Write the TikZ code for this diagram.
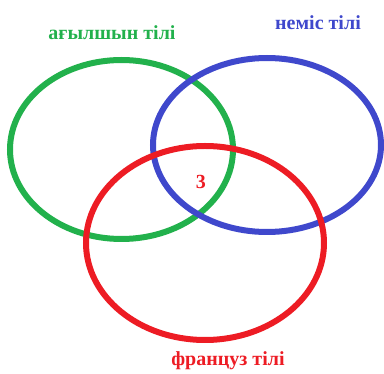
\documentclass[tikz,border=0pt]{standalone}
\usepackage{fontspec}
\setmainfont{Liberation Serif}
\usetikzlibrary{positioning}

\definecolor{enggreen}{RGB}{34,177,76}
\definecolor{gerblue}{RGB}{63,72,204}
\definecolor{frred}{RGB}{237,28,36}

\begin{document}
\begin{tikzpicture}[x=1pt,y=-1pt,
    langring/.style={line width=6pt},
    langlabel/.style={font=\fontsize{20}{20}\selectfont\bfseries}]
    \useasboundingbox (0,0) rectangle (384,374);

    \coordinate (eng) at (121.5,149.5);
    \coordinate (ger) at (267,145);
    \coordinate (fr) at (205,243);

    \draw[langring, enggreen] (eng) ellipse [x radius=111.5pt, y radius=89.5pt];
    \draw[langring, gerblue] (ger) ellipse [x radius=114pt, y radius=87pt];
    \draw[langring, frred] (fr) ellipse [x radius=119pt, y radius=97pt];

    \node[langlabel, text=enggreen] (englabel) at (112,33) {ағылшын тілі};

    \node[langlabel, text=gerblue] (gerlabel) at (318,23) {неміс тілі};

    \node[langlabel, text=frred] (frlabel) at (228,361) {француз тілі};

    \node[langlabel, text=frred] (common) at (201,182) {3};

  \end{tikzpicture}
\end{document}
